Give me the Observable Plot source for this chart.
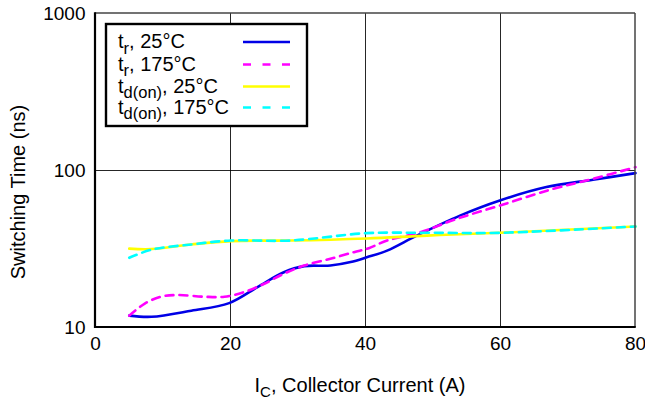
<!DOCTYPE html>
<html><head><meta charset="utf-8">
<script src="https://cdn.jsdelivr.net/npm/d3@7"></script>
<script src="https://cdn.jsdelivr.net/npm/@observablehq/plot@0.6"></script>
<style>
body{margin:0;background:#fff;}
#wrap{position:relative;width:645px;height:401px;font-family:"Liberation Sans",Arial,sans-serif;}
</style></head><body><div id="wrap"></div>
<script>
const xTicks = [0, 20, 40, 60, 80];
const yTicks = [10, 100, 1000];

const trCold = [[5,11.9],[8.3,11.7],[14.2,12.8],[19.8,14.3],[24,18.1],[27.9,22.5],[30.9,24.6],[34.8,24.8],[37.8,26.1],[40.2,28.0],[43.2,30.9],[47.6,38.5],[54,51.6],[59.9,64.4],[66.8,78.4],[73.7,87.3],[80,96.2]];
const trHot = [[5,11.9],[7.3,14.2],[9.7,15.7],[12.2,16.1],[16.1,15.7],[19.1,15.7],[22,16.8],[25,19.0],[27.9,22.0],[30.9,24.8],[34.8,27.4],[38.3,30.2],[40.5,32.0],[43.2,35.8],[48.1,40.4],[53.5,49.2],[59.9,59.8],[67.3,75.3],[73.7,88.5],[80,105]];
const tdCold = [[5,31.8],[8.3,31.6],[14.2,33.8],[20.1,35.5],[28.9,35.8],[40.2,36.9],[49.1,38.5],[59.9,40.1],[80,44.0]];
const tdHot = [[5,27.8],[8.3,31.3],[14.2,33.8],[20.1,35.8],[28.9,35.8],[40.2,39.9],[49.1,40.1],[59.9,40.1],[80,44.0]];

const seriesNames = ["tr25", "tr175", "td25", "td175"];
const seriesColors = ["#0000e6", "#ff00ff", "#ffff00", "#00ffff"];
const seriesDash = [null, "8,6", null, "8,6"];
const legendMain = ["t", "t", "t", "t"];
const legendSub = ["r", "r", "d(on)", "d(on)"];
const legendRest = [", 25°C", ", 175°C", ", 25°C", ", 175°C"];

const allData = [trCold, trHot, tdCold, tdHot];
const rows = allData.flatMap((arr, i) => arr.map(([x, y]) => ({x, y, s: seriesNames[i]})));

const marks = [
  Plot.gridX(xTicks.slice(1, -1), {stroke: "#000", strokeOpacity: 0.85, strokeWidth: 1}),
  Plot.gridY([100], {stroke: "#000", strokeOpacity: 0.85, strokeWidth: 1}),
];
seriesNames.forEach((name, i) => {
  marks.push(Plot.line(rows.filter(d => d.s === name), {
    x: "x", y: "y", curve: "catmull-rom", stroke: seriesColors[i], strokeWidth: 2.6,
    strokeDasharray: seriesDash[i]
  }));
});
marks.push(Plot.axisX(xTicks, {tickSize: 0, tickPadding: 9, fontSize: 19, label: null}));
marks.push(Plot.axisY(yTicks, {tickSize: 0, tickPadding: 10, fontSize: 19, label: null, tickFormat: d => String(d)}));

const chart = Plot.plot({
  width: 645, height: 401,
  marginLeft: 95, marginRight: 10, marginTop: 13, marginBottom: 74,
  style: {fontFamily: "'Liberation Sans', Arial, sans-serif", color: "#000", background: "#fff"},
  x: {domain: [0, 80]},
  y: {type: "log", domain: [10, 1000]},
  marks
});
document.getElementById("wrap").appendChild(chart);

const svg = d3.select(chart);
const L = 95, R = 635, T = 13, B = 327;
// frame
svg.append("line").attr("x1", R).attr("x2", R).attr("y1", T).attr("y2", B).attr("stroke", "#444").attr("stroke-width", 1.5);
svg.append("line").attr("x1", L).attr("x2", R).attr("y1", T).attr("y2", T).attr("stroke", "#444").attr("stroke-width", 1.5);
svg.append("line").attr("x1", L).attr("x2", L).attr("y1", T - 0.75).attr("y2", B + 1).attr("stroke", "#000").attr("stroke-width", 2.2);
svg.append("line").attr("x1", L - 1).attr("x2", R + 0.75).attr("y1", B).attr("y2", B).attr("stroke", "#000").attr("stroke-width", 2.2);

// axis titles
const xt = svg.append("text").attr("x", 360).attr("y", 392).attr("text-anchor", "middle")
  .attr("font-size", 20).attr("fill", "#000");
xt.append("tspan").text("I");
xt.append("tspan").attr("font-size", 15).attr("dy", 5).text("C");
xt.append("tspan").attr("dy", -5).text(", Collector Current (A)");
svg.append("text").attr("transform", "translate(25,192) rotate(-90)").attr("text-anchor", "middle")
  .attr("font-size", 20).attr("fill", "#000").text("Switching Time (ns)");

// legend
const lg = svg.append("g");
lg.append("rect").attr("x", 106).attr("y", 24).attr("width", 201).attr("height", 102)
  .attr("fill", "#fff").attr("stroke", "#000").attr("stroke-width", 2.4);
const rowY = [42, 64.5, 86.5, 107.5];
seriesNames.forEach((name, i) => {
  const t = lg.append("text").attr("x", 118).attr("y", rowY[i] + 6).attr("font-size", 20)
    .attr("text-anchor", "start").attr("fill", "#000");
  t.append("tspan").text(legendMain[i]);
  t.append("tspan").attr("font-size", 16.5).attr("dy", 5.5).text(legendSub[i]);
  t.append("tspan").attr("dy", -5.5).text(legendRest[i]);
  lg.append("line").attr("x1", 243).attr("x2", 290).attr("y1", rowY[i]).attr("y2", rowY[i])
    .attr("stroke", seriesColors[i]).attr("stroke-width", 2.6)
    .attr("stroke-dasharray", seriesDash[i] ? "8,11.5" : null);
});
</script></body></html>
